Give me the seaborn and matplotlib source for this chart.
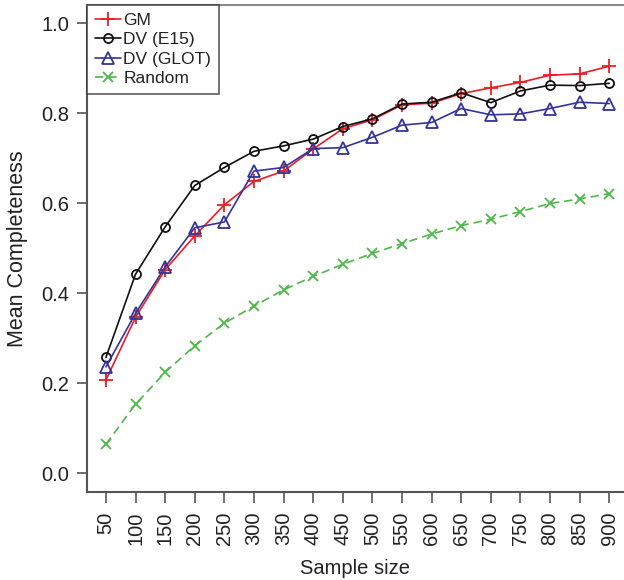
import matplotlib
matplotlib.use("Agg")
import matplotlib.pyplot as plt
import seaborn as sns
import pandas as pd

sample_sizes = [50, 100, 150, 200, 250, 300, 350, 400, 450, 500, 550, 600, 650, 700, 750, 800, 850, 900]
gm = [0.207, 0.346, 0.452, 0.527, 0.596, 0.648, 0.671, 0.720, 0.765, 0.785, 0.818, 0.822, 0.843, 0.856, 0.868, 0.884, 0.887, 0.904]
dv_e15 = [0.257, 0.442, 0.547, 0.639, 0.679, 0.715, 0.727, 0.742, 0.770, 0.787, 0.820, 0.824, 0.845, 0.823, 0.849, 0.862, 0.861, 0.866]
dv_glot = [0.236, 0.355, 0.458, 0.545, 0.558, 0.671, 0.679, 0.721, 0.723, 0.746, 0.773, 0.779, 0.810, 0.796, 0.798, 0.810, 0.824, 0.821]
random_bl = [0.064, 0.153, 0.224, 0.283, 0.333, 0.371, 0.407, 0.437, 0.464, 0.488, 0.510, 0.531, 0.550, 0.564, 0.581, 0.599, 0.609, 0.621]
series_names = ["GM", "DV (E15)", "DV (GLOT)", "Random"]
y_ticks = [0.0, 0.2, 0.4, 0.6, 0.8, 1.0]

sns.set_style("white")
plt.rcParams["font.family"] = ["Liberation Sans", "DejaVu Sans"]

fig = plt.figure(figsize=(6.24, 5.80), dpi=100)
ax = fig.add_axes([87 / 624, 88 / 580, 1 - 87 / 624, (492 - 5) / 580])

styles = {
    "GM": dict(color="#ee1c24", marker="+", markersize=10, mew=1.3, ls="-"),
    "DV (E15)": dict(color="#111111", marker="o", markersize=6.5, mew=1.3, ls="-", mfc="none"),
    "DV (GLOT)": dict(color="#33339a", marker="^", markersize=8, mew=1.3, ls="-", mfc="none"),
    "Random": dict(color="#4cb848", marker="x", markersize=6.5, mew=1.3, ls=(0, (5, 3))),
}
values = {"GM": gm, "DV (E15)": dv_e15, "DV (GLOT)": dv_glot, "Random": random_bl}

for name in series_names:
    df = pd.DataFrame({"x": sample_sizes, "y": values[name]})
    st = styles[name]
    kw = dict(marker=st["marker"], markersize=st["markersize"], markeredgewidth=st["mew"],
              markeredgecolor=st["color"], linestyle=st["ls"], linewidth=1.2)
    if "mfc" in st:
        kw["markerfacecolor"] = st["mfc"]
    sns.lineplot(data=df, x="x", y="y", color=st["color"], label=name, ax=ax, **kw)

ax.set_xlim(18, 925)
ax.set_ylim(-0.042, 1.04)
ax.set_xticks(sample_sizes)
ax.set_xticklabels([str(s) for s in sample_sizes], rotation=90, fontsize=14.5, color="#222222")
ax.set_yticks(y_ticks)
ax.set_yticklabels([f"{t:.1f}" for t in y_ticks], fontsize=14.5, color="#222222")
ax.tick_params(axis="x", direction="out", length=8, width=1.2, color="#555555", pad=6, bottom=True)
ax.tick_params(axis="y", direction="out", length=7, width=1.2, color="#555555", pad=6, left=True)
ax.set_xlabel("Sample size", fontsize=14.5, color="#222222", labelpad=10)
ax.set_ylabel("Mean Completeness", fontsize=15.5, color="#222222", labelpad=9)

for side in ["left", "bottom"]:
    ax.spines[side].set_color("#555555")
    ax.spines[side].set_linewidth(1.5)
ax.spines["top"].set_color("#8a8a8a")
ax.spines["top"].set_linewidth(1.5)
ax.spines["right"].set_visible(False)

leg = ax.legend(loc="upper left", bbox_to_anchor=(0, 1), borderaxespad=0, fontsize=12.5,
                frameon=True, fancybox=False, edgecolor="#333333", handlelength=1.5,
                handletextpad=0.15, labelspacing=0.24, borderpad=0.45)
leg.get_frame().set_linewidth(1.2)
for t in leg.get_texts():
    t.set_color("#222222")

fig.savefig("out.png", dpi=100)
